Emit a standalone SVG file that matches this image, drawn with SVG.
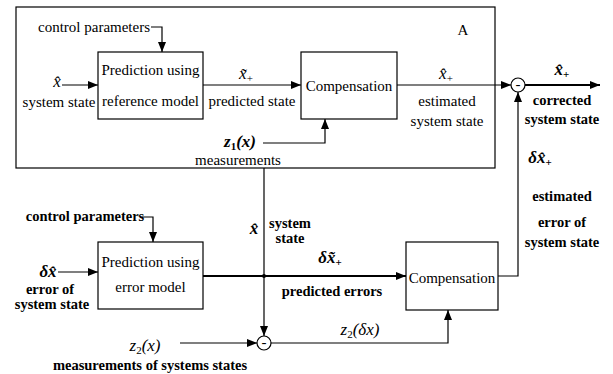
<svg xmlns="http://www.w3.org/2000/svg" width="613" height="374" viewBox="0 0 613 374">
<defs>
<marker id="ah" viewBox="0 0 10 8" refX="10" refY="4" markerWidth="10" markerHeight="8" markerUnits="userSpaceOnUse" orient="auto">
<path d="M0,0 L10,4 L0,8 z" fill="#000"/>
</marker>
</defs>
<style>
text{font-family:"Liberation Serif","Times New Roman",serif;fill:#000}
.r{font-size:15px}
.b{font-size:14.5px;font-weight:bold}
.m{font-style:italic;font-size:17px}
.mb{font-style:italic;font-weight:bold;font-size:17px}
.sub{font-size:11px}
.box{fill:#fff;stroke:#000;stroke-width:1.2}
.ln{fill:none;stroke:#000;stroke-width:1.2}
.lb{fill:none;stroke:#000;stroke-width:1.8}
.c{fill:#fff;stroke:#000;stroke-width:1.2}
</style>
<rect width="613" height="374" fill="#fff"/>
<g id="frameA">
<rect x="16" y="7" width="479" height="161" class="box" fill="none"/>
<text x="463" y="35" class="r" text-anchor="middle" font-size="16">A</text>
</g>
<g id="connectors">
<polyline points="151,27 162,27 162,52" class="ln" marker-end="url(#ah)"/>
<line x1="62" y1="85" x2="98" y2="85" class="ln" marker-end="url(#ah)"/>
<line x1="203" y1="85" x2="301" y2="85" class="ln" marker-end="url(#ah)"/>
<polyline points="263,143 325,143 325,119" class="ln" marker-end="url(#ah)"/>
<line x1="397" y1="85" x2="511" y2="85" class="ln" marker-end="url(#ah)"/>
<line x1="525" y1="85" x2="600" y2="85" class="lb" marker-end="url(#ah)"/>
<polyline points="498,276 518,276 518,92" class="ln" marker-end="url(#ah)"/>
<line x1="264" y1="168" x2="264" y2="336" class="ln" marker-end="url(#ah)"/>
<polyline points="142,217 153,217 153,242" class="ln" marker-end="url(#ah)"/>
<line x1="58" y1="272" x2="98" y2="272" class="ln" marker-end="url(#ah)"/>
<line x1="203" y1="276" x2="406" y2="276" class="lb" marker-end="url(#ah)"/>
<circle cx="264" cy="276" r="2" fill="#000"/>
<line x1="180" y1="343" x2="257" y2="343" class="ln" marker-end="url(#ah)"/>
<polyline points="271,343 448,343 448,310" class="ln" marker-end="url(#ah)"/>
</g>
<g id="predRef">
<rect x="98" y="52" width="105" height="67" class="box"/>
<text x="150.5" y="75" class="r" text-anchor="middle">Prediction using</text>
<text x="150.5" y="106" class="r" text-anchor="middle">reference model</text>
</g>
<g id="comp1">
<rect x="301" y="52" width="96" height="67" class="box"/>
<text x="349" y="91" class="r" text-anchor="middle">Compensation</text>
</g>
<g id="sum1">
<circle cx="518" cy="85" r="7" class="c"/>
<text x="518" y="89" class="r" text-anchor="middle" font-size="12">-</text>
</g>
<g id="predErr">
<rect x="98" y="242" width="105" height="67" class="box"/>
<text x="150.5" y="267" class="r" text-anchor="middle">Prediction using</text>
<text x="150.5" y="292" class="r" text-anchor="middle">error model</text>
</g>
<g id="comp2">
<rect x="406" y="242" width="92" height="68" class="box"/>
<text x="452" y="283" class="r" text-anchor="middle">Compensation</text>
</g>
<g id="sum2">
<circle cx="264" cy="343" r="7" class="c"/>
<text x="264" y="347" class="r" text-anchor="middle" font-size="12">-</text>
</g>
<g id="labels">
<text x="94" y="32" class="r" text-anchor="middle">control parameters</text>
<text x="57" y="87" class="m" text-anchor="middle">x&#770;</text>
<text x="59" y="107" class="r" text-anchor="middle">system state</text>
<text x="246" y="79" class="m" text-anchor="middle">x&#771;<tspan class="sub" dy="3" font-style="normal">+</tspan></text>
<text x="252" y="106" class="r" text-anchor="middle">predicted state</text>
<text x="240" y="147" class="mb" text-anchor="middle">z<tspan class="sub" dy="3" font-style="normal">1</tspan><tspan dy="-3">(x)</tspan></text>
<text x="238" y="165" class="r" text-anchor="middle">measurements</text>
<text x="446" y="79" class="m" text-anchor="middle">x&#770;<tspan class="sub" dy="3" font-style="normal">+</tspan></text>
<text x="447" y="106" class="r" text-anchor="middle">estimated</text>
<text x="447" y="126" class="r" text-anchor="middle">system state</text>
<text x="562" y="75" class="mb" text-anchor="middle">x&#770;<tspan class="sub" dy="3" font-style="normal">+</tspan></text>
<text x="562" y="105" class="b" text-anchor="middle">corrected</text>
<text x="562" y="124" class="b" text-anchor="middle">system state</text>
<text x="540" y="163" class="mb" text-anchor="middle" font-size="19">δx&#770;<tspan class="sub" dy="3" font-style="normal">+</tspan></text>
<text x="562" y="201" class="b" text-anchor="middle">estimated</text>
<text x="562" y="227" class="b" text-anchor="middle">error of</text>
<text x="562" y="247" class="b" text-anchor="middle">system state</text>
<text x="85" y="221" class="b" text-anchor="middle">control parameters</text>
<text x="48" y="277" class="mb" text-anchor="middle" font-size="19">δx&#770;</text>
<text x="50" y="294" class="b" text-anchor="middle">error of</text>
<text x="52" y="309" class="b" text-anchor="middle">system state</text>
<text x="254" y="234" class="mb" text-anchor="middle">x&#770;</text>
<text x="290" y="228" class="b" text-anchor="middle">system</text>
<text x="290" y="243" class="b" text-anchor="middle">state</text>
<text x="330" y="263" class="mb" text-anchor="middle" font-size="19">δx&#771;<tspan class="sub" dy="3" font-style="normal">+</tspan></text>
<text x="332" y="296" class="b" text-anchor="middle">predicted errors</text>
<text x="145" y="351" class="m" text-anchor="middle" font-size="19">z<tspan class="sub" font-size="13" dy="3" font-style="normal">2</tspan><tspan dy="-3">(x)</tspan></text>
<text x="360" y="335" class="m" text-anchor="middle" font-size="19">z<tspan class="sub" font-size="13" dy="3" font-style="normal">2</tspan><tspan dy="-3">(δx)</tspan></text>
<text x="150" y="370" class="b" text-anchor="middle">measurements of systems states</text>
</g>
</svg>
